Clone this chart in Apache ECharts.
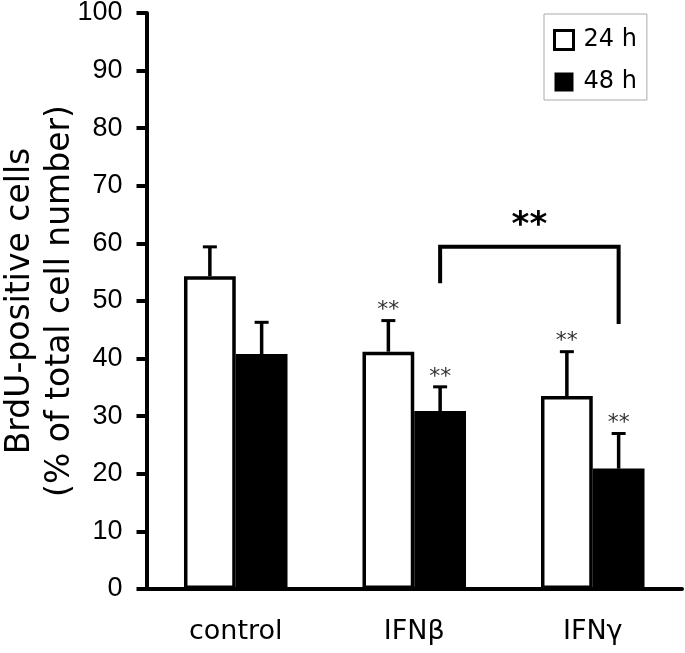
<!DOCTYPE html>
<html>
<head>
<meta charset="utf-8">
<script src="https://cdn.jsdelivr.net/npm/echarts@6/dist/echarts.min.js"></script>
<style>html,body{margin:0;padding:0;background:#fff}#c{width:685px;height:653px}</style>
</head>
<body>
<div id="c"></div>
<script>
const categories = ['control', 'IFNβ', 'IFNγ'];
const yTicks = [0, 10, 20, 30, 40, 50, 60, 70, 80, 90, 100];
const mean24 = [54.3, 41.2, 33.5];
const err24 = [5.1, 5.4, 7.7];
const sig24 = ['', '**', '**'];
const mean48 = [40.8, 30.9, 20.9];
const err48 = [5.5, 4.2, 6.1];
const sig48 = ['', '**', '**'];
// bracket: from category 1 (48 h bar) to category 2 (48 h bar); top, left end, right end
const bracket = [1, 2, 59.4, 53.1, 46.0];
const bracketSig = '**';

const BAR_FRAC = 0.29;
const FONT = 'DejaVu Sans';

function errRender(barIdx, sigs) {
  return function (params, api) {
    const c = api.value(0), m = api.value(1), e = api.value(2);
    const band = api.size([1, 0])[0];
    const w = band * BAR_FRAC;
    const off = barIdx === 0 ? -w / 2 : w / 2;
    const p0 = api.coord([c, m]);
    const p1 = api.coord([c, m + e]);
    const x = p0[0] + off;
    const children = [
      {type: 'line', shape: {x1: x, y1: p0[1], x2: x, y2: p1[1]}, style: {stroke: '#000', lineWidth: 3.5}},
      {type: 'line', shape: {x1: x - 7, y1: p1[1], x2: x + 7, y2: p1[1]}, style: {stroke: '#000', lineWidth: 3}}
    ];
    const s = sigs[params.dataIndex];
    if (s) {
      children.push({type: 'text', x: x, y: p1[1] - 10,
        style: {text: s, font: '22px "' + FONT + '"', fill: '#333', align: 'center', verticalAlign: 'middle'}});
    }
    return {type: 'group', children: children};
  };
}

function bracketRender(params, api) {
  const c1 = api.value(0), c2 = api.value(1), top = api.value(2), l = api.value(3), r = api.value(4);
  const band = api.size([1, 0])[0];
  const w = band * BAR_FRAC;
  const xl = api.coord([c1, top])[0] + w / 2;
  const xr = api.coord([c2, top])[0] + w / 2;
  const yt = api.coord([c1, top])[1];
  const yl = api.coord([c1, l])[1];
  const yr = api.coord([c2, r])[1];
  return {type: 'group', children: [
    {type: 'polyline', shape: {points: [[xl, yl], [xl, yt], [xr, yt], [xr, yr]]},
      style: {stroke: '#000', lineWidth: 4, fill: null}},
    {type: 'text', x: (xl + xr) / 2, y: yt - 21,
      style: {text: bracketSig, font: 'bold 34px "' + FONT + '"', fill: '#000', align: 'center', verticalAlign: 'middle'}}
  ]};
}

const chart = echarts.init(document.getElementById('c'));
chart.setOption({
  animation: false,
  backgroundColor: '#fff',
  grid: {left: 146.5, right: 3, top: 13, bottom: 64, containLabel: false, outerBoundsMode: 'none'},
  legend: {
    orient: 'vertical', left: 544, top: 14, selectedMode: false,
    padding: [14, 10, 6, 9], itemWidth: 19, itemHeight: 19, itemGap: 18,
    borderColor: '#aaa', borderWidth: 1,
    textStyle: {fontFamily: FONT, fontSize: 24, lineHeight: 24, color: '#000', padding: [0, 0, 0, 5]},
    data: [
      {name: '24 h', icon: 'rect', itemStyle: {color: '#fff', borderColor: '#000', borderWidth: 3}},
      {name: '48 h', icon: 'rect', itemStyle: {color: '#000', borderColor: '#000', borderWidth: 0}}
    ]
  },
  xAxis: {
    type: 'category', data: categories,
    axisLine: {lineStyle: {color: '#000', width: 4}},
    axisTick: {length: 10, lineStyle: {color: '#000', width: 4}},
    axisLabel: {fontFamily: FONT, fontSize: 27, color: '#000', margin: 29}
  },
  yAxis: {
    type: 'value', min: yTicks[0], max: yTicks[yTicks.length - 1], interval: yTicks[1] - yTicks[0],
    name: 'BrdU-positive cells\n(% of total cell number)',
    nameLocation: 'middle', nameRotate: 90, nameGap: 66, nameMoveOverlap: false,
    nameTextStyle: {fontFamily: FONT, fontSize: 33, lineHeight: 40, color: '#000'},
    axisLine: {show: true, lineStyle: {color: '#000', width: 4}},
    axisTick: {show: true, length: 10, lineStyle: {color: '#000', width: 4}},
    axisLabel: {fontFamily: 'Liberation Sans', fontSize: 27, color: '#000', margin: 24},
    splitLine: {show: false}
  },
  series: [
    {name: '24 h', type: 'bar', data: mean24, barWidth: (BAR_FRAC * 100) + '%', barGap: '0%',
      itemStyle: {color: '#fff', borderColor: '#000', borderWidth: 3.5}},
    {name: '48 h', type: 'bar', data: mean48, barWidth: (BAR_FRAC * 100) + '%', barGap: '0%',
      itemStyle: {color: '#000', borderColor: '#000', borderWidth: 0}},
    {type: 'custom', renderItem: errRender(0, sig24), z: 5,
      data: mean24.map((m, i) => [i, m, err24[i]]), encode: {x: 0, y: 1}},
    {type: 'custom', renderItem: errRender(1, sig48), z: 5,
      data: mean48.map((m, i) => [i, m, err48[i]]), encode: {x: 0, y: 1}},
    {type: 'custom', renderItem: bracketRender, z: 5,
      data: [bracket], encode: {x: 0, y: 2}}
  ]
});
</script>
</body>
</html>
